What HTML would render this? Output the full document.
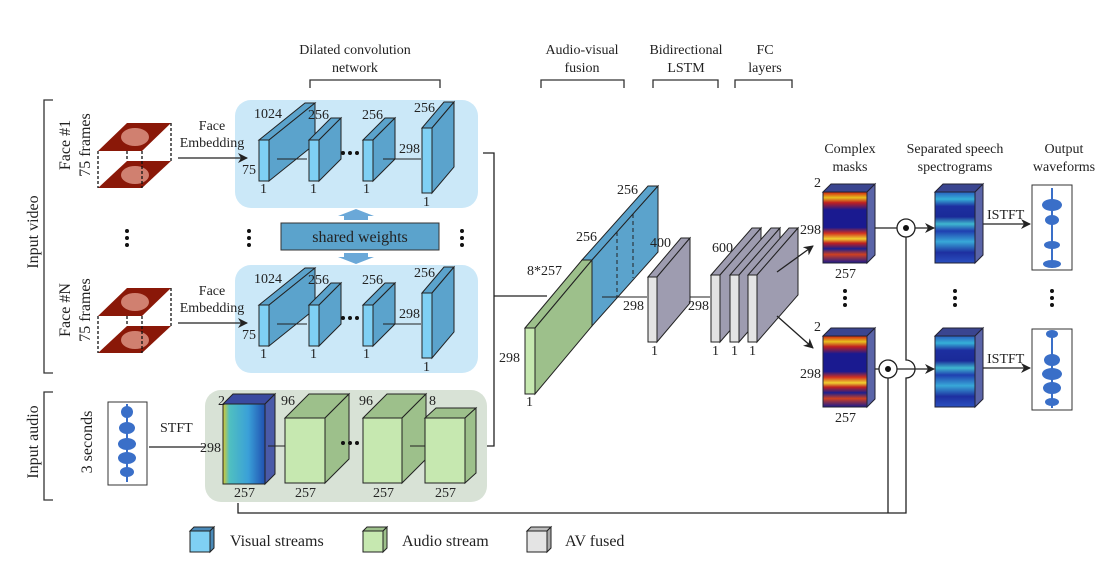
<!DOCTYPE html>
<html><head><meta charset="utf-8"><style>
body{margin:0;background:#fff}
svg{display:block}
text{font-family:"Liberation Serif",serif;font-size:14px;fill:#222}
</style></head><body>
<svg width="1109" height="571" viewBox="0 0 1109 571" xmlns="http://www.w3.org/2000/svg">
<defs>
<marker id="ar" markerWidth="10" markerHeight="10" refX="9" refY="5" orient="auto" markerUnits="userSpaceOnUse"><path d="M0,0 L10,5 L0,10 L3,5z" fill="#222"/></marker>
<linearGradient id="spec" x1="0" y1="0" x2="0" y2="1">
<stop offset="0" stop-color="#2a5fc0"/><stop offset=".1" stop-color="#35b0d8"/><stop offset=".2" stop-color="#1d2fa0"/><stop offset=".35" stop-color="#1a2a98"/><stop offset=".45" stop-color="#3fb8d0"/><stop offset=".55" stop-color="#1f3fb0"/><stop offset=".7" stop-color="#38a8d8"/><stop offset=".85" stop-color="#1d2fa0"/><stop offset="1" stop-color="#2a50c0"/></linearGradient>
<linearGradient id="mask" x1="0" y1="0" x2="0" y2="1">
<stop offset="0" stop-color="#d02010"/><stop offset=".08" stop-color="#e8c020"/><stop offset=".15" stop-color="#c02020"/><stop offset=".25" stop-color="#1a1a90"/><stop offset=".5" stop-color="#1a1a90"/><stop offset=".58" stop-color="#d03020"/><stop offset=".66" stop-color="#f0d030"/><stop offset=".72" stop-color="#c02020"/><stop offset=".8" stop-color="#1a2090"/><stop offset=".88" stop-color="#d04020"/><stop offset="1" stop-color="#1a1a90"/></linearGradient>
<linearGradient id="aspec" x1="0" y1="0" x2="1" y2="0">
<stop offset="0" stop-color="#d8c830"/><stop offset=".15" stop-color="#50c0c0"/><stop offset=".6" stop-color="#3aa0d8"/><stop offset="1" stop-color="#2050b0"/></linearGradient>
</defs>

<g text-anchor="middle">
<text x="355" y="54">Dilated convolution</text><text x="355" y="72">network</text>
<text x="582" y="54">Audio-visual</text><text x="582" y="72">fusion</text>
<text x="686" y="54">Bidirectional</text><text x="686" y="72">LSTM</text>
<text x="765" y="54">FC</text><text x="765" y="72">layers</text>
</g>
<g stroke="#333" fill="none" stroke-width="1.3">
<path d="M310,88 V80 H440 V88"/><path d="M541,88 V80 H624 V88"/><path d="M653,88 V80 H718 V88"/><path d="M735,88 V80 H792 V88"/>
<path d="M53,100 H44 V373 H53"/><path d="M53,392 H44 V500 H53"/>
</g>
<text transform="translate(38,232) rotate(-90)" text-anchor="middle" style="font-size:16px">Input video</text>
<text transform="translate(38,442) rotate(-90)" text-anchor="middle" style="font-size:16px">Input audio</text>
<text transform="translate(70,145) rotate(-90)" text-anchor="middle" style="font-size:16px">Face #1</text>
<text transform="translate(90,145) rotate(-90)" text-anchor="middle" style="font-size:16px">75 frames</text>
<text transform="translate(70,310) rotate(-90)" text-anchor="middle" style="font-size:16px">Face #N</text>
<text transform="translate(90,310) rotate(-90)" text-anchor="middle" style="font-size:16px">75 frames</text>
<text transform="translate(92,442) rotate(-90)" text-anchor="middle" style="font-size:16px">3 seconds</text>

<g id="face">
<polygon points="127,123 171,123 142,151 98,151" fill="#8a1808"/>
<ellipse cx="135" cy="137" rx="14" ry="9" fill="#d08070"/>
<polygon points="127,161 171,161 142,188 98,188" fill="#8a1808"/>
<ellipse cx="135" cy="175" rx="14" ry="9" fill="#d08070"/>
<g stroke="#111" stroke-width="1.3" stroke-dasharray="3,2" fill="none"><path d="M98,151 V188 M142,151 V188 M171,123 V161 M127,151 V161"/></g>
</g>
<use href="#face" transform="translate(0,165)"/>

<g id="vp">
<rect x="235" y="100" width="243" height="108" rx="16" fill="#cbe8f8"/>
<g stroke="#222" stroke-width="1">
<polygon points="259,140 305,103 315,103 269,140" fill="#5ba3cc"/><polygon points="269,140 315,103 315,144 269,181" fill="#5ba3cc"/><rect x="259" y="140" width="10" height="41" fill="#7fd0f4"/>
<polygon points="309,140 331,118 341,118 319,140" fill="#5ba3cc"/><polygon points="319,140 341,118 341,159 319,181" fill="#5ba3cc"/><rect x="309" y="140" width="10" height="41" fill="#7fd0f4"/>
<polygon points="363,140 385,118 395,118 373,140" fill="#5ba3cc"/><polygon points="373,140 395,118 395,159 373,181" fill="#5ba3cc"/><rect x="363" y="140" width="10" height="41" fill="#7fd0f4"/>
<polygon points="422,128 444,102 454,102 432,128" fill="#5ba3cc"/><polygon points="432,128 454,102 454,167 432,193" fill="#5ba3cc"/><rect x="422" y="128" width="10" height="65" fill="#7fd0f4"/>
<path d="M277,159 H307 M383,159 H421" fill="none"/>
</g>
<g fill="#111"><circle cx="343" cy="153" r="2"/><circle cx="350" cy="153" r="2"/><circle cx="357" cy="153" r="2"/></g>
<text x="254" y="118">1024</text><text x="308" y="119">256</text><text x="362" y="119">256</text><text x="414" y="112">256</text>
<text x="242" y="174">75</text><text x="399" y="153">298</text>
<text x="260" y="193">1</text><text x="310" y="193">1</text><text x="363" y="193">1</text><text x="423" y="206">1</text>
</g>
<use href="#vp" transform="translate(0,165)"/>

<g text-anchor="middle"><text x="212" y="130">Face</text><text x="212" y="147">Embedding</text>
<text x="212" y="295">Face</text><text x="212" y="312">Embedding</text></g>
<line x1="178" y1="158" x2="247" y2="158" stroke="#222" stroke-width="1.3" marker-end="url(#ar)"/>
<line x1="178" y1="323" x2="247" y2="323" stroke="#222" stroke-width="1.3" marker-end="url(#ar)"/>

<rect x="281" y="223" width="158" height="27" fill="#5ba3cc" stroke="#333"/>
<text x="360" y="242" text-anchor="middle" style="font-size:16px">shared weights</text>
<polygon points="344,220 368,220 368,216 374,216 356,209 338,216 344,216" fill="#6aa8d8"/>
<polygon points="344,253 368,253 368,257 374,257 356,264 338,257 344,257" fill="#6aa8d8"/>
<g fill="#111"><circle cx="127" cy="231" r="2"/><circle cx="127" cy="238" r="2"/><circle cx="127" cy="245" r="2"/>
<circle cx="249" cy="231" r="2"/><circle cx="249" cy="238" r="2"/><circle cx="249" cy="245" r="2"/>
<circle cx="462" cy="231" r="2"/><circle cx="462" cy="238" r="2"/><circle cx="462" cy="245" r="2"/></g>

<g id="wf1">
<rect x="108" y="402" width="39" height="83" fill="#fff" stroke="#333"/>
<g fill="#3a6fc8"><ellipse cx="127" cy="412" rx="6" ry="6"/><ellipse cx="127" cy="428" rx="8" ry="6"/><ellipse cx="127" cy="444" rx="9" ry="6"/><ellipse cx="127" cy="458" rx="9" ry="6"/><ellipse cx="127" cy="472" rx="7" ry="5"/><rect x="126" y="404" width="2" height="78"/></g>
</g>
<text x="160" y="432">STFT</text>
<line x1="149" y1="447" x2="217" y2="447" stroke="#222" stroke-width="1.3" marker-end="url(#ar)"/>
<rect x="205" y="390" width="282" height="112" rx="16" fill="#d8e2d6"/>
<g stroke="#222" stroke-width="1">
<polygon points="223,404 233,394 275,394 265,404" fill="#3a4aa0"/><polygon points="265,404 275,394 275,474 265,484" fill="#4a5aa8"/><rect x="223" y="404" width="42" height="80" fill="url(#aspec)"/>
<polygon points="285,418 309,394 349,394 325,418" fill="#9dc08b"/><polygon points="325,418 349,394 349,459 325,483" fill="#9dc08b"/><rect x="285" y="418" width="40" height="65" fill="#c6e8b0"/>
<polygon points="363,418 387,394 426,394 402,418" fill="#9dc08b"/><polygon points="402,418 426,394 426,459 402,483" fill="#9dc08b"/><rect x="363" y="418" width="39" height="65" fill="#c6e8b0"/>
<polygon points="425,418 436,408 476,408 465,418" fill="#9dc08b"/><polygon points="465,418 476,408 476,473 465,483" fill="#9dc08b"/><rect x="425" y="418" width="40" height="65" fill="#c6e8b0"/>
<path d="M268,446 H285 M410,446 H425" fill="none"/>
</g>
<g fill="#111"><circle cx="343" cy="443" r="2"/><circle cx="350" cy="443" r="2"/><circle cx="357" cy="443" r="2"/></g>
<text x="218" y="405">2</text><text x="200" y="452">298</text><text x="234" y="497">257</text>
<text x="281" y="405">96</text><text x="295" y="497">257</text><text x="359" y="405">96</text><text x="373" y="497">257</text><text x="429" y="405">8</text><text x="435" y="497">257</text>

<g stroke="#222" stroke-width="1.3" fill="none">
<path d="M483,153 H494 V446 H487"/><path d="M494,296 H547"/>
<path d="M238,503 V513 H906 V378 A9,9 0 0 0 906,360 V237"/>
<path d="M888,513 V378"/>
</g>

<g stroke="#222" stroke-width="1">
<polygon points="525,328 582,260 592,260 535,328" fill="#9dc08b"/>
<polygon points="535,328 592,260 592,326 535,394" fill="#9dc08b"/>
<rect x="525" y="328" width="10" height="66" fill="#c6e8b0"/>
<polygon points="582,260 648,186 658,186 592,260" fill="#5ba3cc"/>
<polygon points="592,260 658,186 658,252 592,326" fill="#5ba3cc"/>
<path d="M617,232 V297 M633,214 V278" stroke-dasharray="4,3" fill="none"/>
<path d="M602,297 H647 M680,297 H710" fill="none"/>
<polygon points="648,277 681,238 690,238 657,277" fill="#9e9cb0"/><polygon points="657,277 690,238 690,303 657,342" fill="#9e9cb0"/><rect x="648" y="277" width="9" height="65" fill="#e4e4e4"/>
<polygon points="711,275 752,228 761,228 720,275" fill="#9e9cb0"/><polygon points="720,275 761,228 761,295 720,342" fill="#9e9cb0"/><rect x="711" y="275" width="9" height="67" fill="#e4e4e4"/>
<polygon points="730,275 771,228 780,228 739,275" fill="#9e9cb0"/><polygon points="739,275 780,228 780,295 739,342" fill="#9e9cb0"/><rect x="730" y="275" width="9" height="67" fill="#e4e4e4"/>
<polygon points="748,275 789,228 798,228 757,275" fill="#9e9cb0"/><polygon points="757,275 798,228 798,295 757,342" fill="#9e9cb0"/><rect x="748" y="275" width="9" height="67" fill="#e4e4e4"/>
</g>
<text x="617" y="194">256</text><text x="576" y="241">256</text><text x="527" y="275">8*257</text><text x="499" y="362">298</text><text x="526" y="406">1</text>
<text x="650" y="247">400</text><text x="623" y="310">298</text><text x="688" y="310">298</text><text x="651" y="355">1</text>
<text x="712" y="252">600</text><text x="712" y="355">1</text><text x="731" y="355">1</text><text x="749" y="355">1</text>
<line x1="777" y1="272" x2="813" y2="246" stroke="#222" stroke-width="1.3" marker-end="url(#ar)"/>
<line x1="777" y1="316" x2="813" y2="348" stroke="#222" stroke-width="1.3" marker-end="url(#ar)"/>

<g text-anchor="middle">
<text x="850" y="153">Complex</text><text x="850" y="171">masks</text>
<text x="955" y="153">Separated speech</text><text x="955" y="171">spectrograms</text>
<text x="1064" y="153">Output</text><text x="1064" y="171">waveforms</text></g>
<g id="rr">
<g stroke="#223" stroke-width="1">
<polygon points="823,192 831,184 875,184 867,192" fill="#3a4590"/><polygon points="867,192 875,184 875,255 867,263" fill="#5a64a8"/><rect x="823" y="192" width="44" height="71" fill="url(#mask)"/>
<polygon points="935,192 943,184 983,184 975,192" fill="#3a4590"/><polygon points="975,192 983,184 983,255 975,263" fill="#5a64a8"/><rect x="935" y="192" width="40" height="71" fill="url(#spec)"/>
</g>
<text x="814" y="187">2</text><text x="800" y="234">298</text><text x="835" y="278">257</text>
<text x="987" y="219">ISTFT</text>
<line x1="983" y1="224" x2="1030" y2="224" stroke="#222" stroke-width="1.3" marker-end="url(#ar)"/>
</g>
<use href="#rr" transform="translate(0,144)"/>
<rect x="1032" y="185" width="40" height="85" fill="#fff" stroke="#333"/>
<g fill="#3a6fc8"><rect x="1051" y="188" width="2" height="80"/><ellipse cx="1052" cy="205" rx="10" ry="6"/><ellipse cx="1052" cy="220" rx="7" ry="5"/><ellipse cx="1052" cy="245" rx="8" ry="4"/><ellipse cx="1052" cy="264" rx="9" ry="4"/></g>
<rect x="1032" y="329" width="40" height="81" fill="#fff" stroke="#333"/>
<g fill="#3a6fc8"><rect x="1051" y="331" width="2" height="77"/><ellipse cx="1052" cy="334" rx="6" ry="4"/><ellipse cx="1052" cy="360" rx="8" ry="6"/><ellipse cx="1052" cy="374" rx="10" ry="6"/><ellipse cx="1052" cy="388" rx="9" ry="6"/><ellipse cx="1052" cy="402" rx="7" ry="4"/></g>
<g stroke="#222" stroke-width="1.3" fill="none">
<path d="M875,228 H897"/><circle cx="906" cy="228" r="9"/>
<path d="M875,369 H879 M897,369 H915"/><circle cx="888" cy="369" r="9"/>
</g>
<line x1="915" y1="228" x2="934" y2="228" stroke="#222" stroke-width="1.3" marker-end="url(#ar)"/>
<line x1="915" y1="369" x2="934" y2="369" stroke="#222" stroke-width="1.3" marker-end="url(#ar)"/>
<circle cx="906" cy="228" r="3" fill="#111"/><circle cx="888" cy="369" r="3" fill="#111"/>
<g fill="#111">
<circle cx="845" cy="291" r="2"/><circle cx="845" cy="298" r="2"/><circle cx="845" cy="305" r="2"/>
<circle cx="955" cy="291" r="2"/><circle cx="955" cy="298" r="2"/><circle cx="955" cy="305" r="2"/>
<circle cx="1052" cy="291" r="2"/><circle cx="1052" cy="298" r="2"/><circle cx="1052" cy="305" r="2"/></g>

<g stroke="#222" stroke-width="1">
<polygon points="190,531 194,527 214,527 210,531" fill="#4a8ab8"/><polygon points="210,531 214,527 214,548 210,552" fill="#4a8ab8"/><rect x="190" y="531" width="20" height="21" fill="#7fd0f4"/>
<polygon points="363,531 367,527 387,527 383,531" fill="#9dc08b"/><polygon points="383,531 387,527 387,548 383,552" fill="#9dc08b"/><rect x="363" y="531" width="20" height="21" fill="#c6e8b0"/>
<polygon points="527,531 531,527 551,527 547,531" fill="#bbb"/><polygon points="547,531 551,527 551,548 547,552" fill="#aaa"/><rect x="527" y="531" width="20" height="21" fill="#e4e4e4"/>
</g>
<text x="230" y="546" style="font-size:16px">Visual streams</text>
<text x="402" y="546" style="font-size:16px">Audio stream</text>
<text x="565" y="546" style="font-size:16px">AV fused</text>
</svg>
</body></html>
